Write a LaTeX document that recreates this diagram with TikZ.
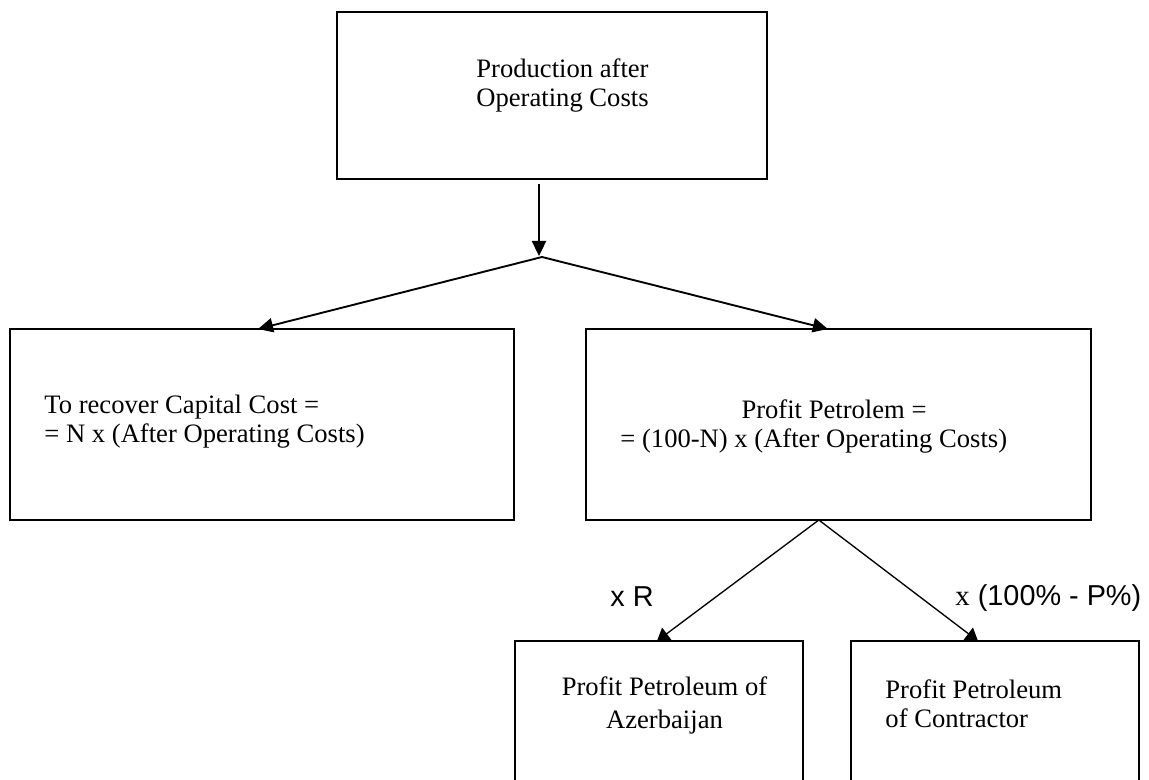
\documentclass[tikz,border=0pt]{standalone}
\usepackage{fontspec}
\setmainfont{Liberation Serif}
\newfontfamily\labelsans{Liberation Sans}
\usetikzlibrary{arrows.meta,calc}
\begin{document}
\begin{tikzpicture}[x=0.451pt,y=-0.451pt,
  box/.style={draw,line width=0.9pt,rectangle,inner sep=0pt,outer sep=0pt,anchor=north west},
  txt/.style={inner sep=0pt,font=\fontsize{12}{13.1}\selectfont},
  arrtop/.style={line width=0.85pt,-{Triangle[length=6.8pt,width=6.4pt]}},
  arrlow/.style={line width=0.6pt,-{Triangle[length=5.5pt,width=6.8pt]}},
  lbl/.style={inner sep=0pt,anchor=base west,font=\labelsans\fontsize{13}{15}\selectfont}]
\useasboundingbox (0,0) rectangle (1149,780);
\clip (0,0) rectangle (1149,780);
\fill[white] (0,0) rectangle (1149,780);

% boxes
\node[box,minimum width={430*0.451pt},minimum height={167*0.451pt}] (top) at (337,12) {};
\node[box,minimum width={504*0.451pt},minimum height={191*0.451pt}] (L) at (10,329) {};
\node[box,minimum width={505*0.451pt},minimum height={191*0.451pt}] (R) at (586,329) {};
\node[box,minimum width={288*0.451pt},minimum height={180*0.451pt}] (BL) at (515,641) {};
\node[box,minimum width={288*0.451pt},minimum height={180*0.451pt}] (BR) at (851,641) {};

% texts
\node[txt,anchor=base,font=\fontsize{12}{13.5}\selectfont] (toptext) at (562.5,77)
  {\begin{tabular}[t]{@{}c@{}}Production after\\Operating Costs\end{tabular}};
\node[txt,anchor=base west] (Ltext) at (44,413)
  {\begin{tabular}[t]{@{}l@{}}To recover Capital Cost =\\= N x (After Operating Costs)\end{tabular}};
\node[txt,anchor=base west,font=\fontsize{12}{13.5}\selectfont] (Rtext) at (620,418)
  {\begin{tabular}[t]{@{}l@{}}\hspace*{54.6pt}Profit Petrolem =\\= (100-N) x (After Operating Costs)\end{tabular}};
\node[txt,anchor=base,font=\fontsize{12}{14.9}\selectfont] (BLtext) at (664.5,695)
  {\begin{tabular}[t]{@{}c@{}}Profit Petroleum of\\Azerbaijan\end{tabular}};
\node[txt,anchor=base west,font=\fontsize{12}{13.5}\selectfont] (BRtext) at (885,698)
  {\begin{tabular}[t]{@{}l@{}}Profit Petroleum\\of Contractor\end{tabular}};

% labels
\node[lbl] (lxr) at (610,606) {x R};
\node[lbl] (lxp) at (955,605) {{\rmfamily x} (100\% - P\%)};

% connectors
\coordinate (vstart) at ($(top.south west)!0.4698!(top.south east)+(0,5)$);
\coordinate (vtip) at (539,256);
\coordinate (split1) at (542,257);
\coordinate (split2) at ($(R.south west)!0.461!(R.south east)$);
\draw[arrtop] (vstart) -- (vtip);
\draw[arrtop] (split1) -- ($(L.north west)!0.492!(L.north east)$);
\draw[arrtop] (split1) -- ($(R.north west)!0.479!(R.north east)$);
\draw[arrlow] (split2) -- ($(BL.north west)!0.493!(BL.north east)$);
\draw[arrlow] (split2) -- ($(BR.north west)!0.441!(BR.north east)$);
\end{tikzpicture}
\end{document}
